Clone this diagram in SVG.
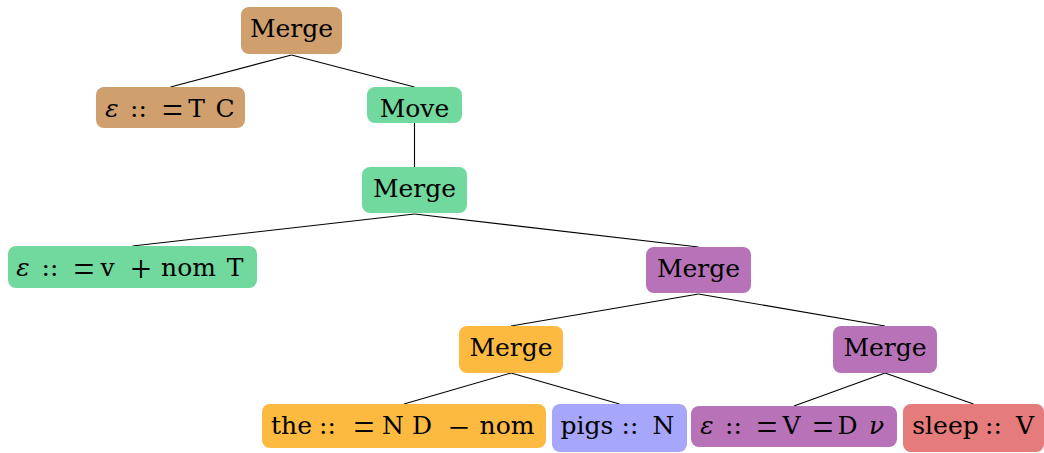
<svg xmlns="http://www.w3.org/2000/svg" width="1044" height="453" viewBox="0 0 1044 453">
<style>
.t{font-family:"DejaVu Serif","Liberation Serif",serif;font-size:25px;fill:#000;text-anchor:middle}
.op{font-family:"Liberation Serif","DejaVu Serif",serif;font-size:37px}
.i{font-style:italic}
.brown{fill:#D09F6E}
.green{fill:#72D99E}
.purple{fill:#B873B8}
.orange{fill:#FDBA40}
.blue{fill:#A6A6FA}
.red{fill:#E57B7B}
.e{stroke:#000;stroke-width:1.1;fill:none}
</style>
<rect width="1044" height="453" fill="#fff"/>
<g id="edges">
<line class="e" x1="291.5" y1="55" x2="170.5" y2="87"/>
<line class="e" x1="291.5" y1="55" x2="414.5" y2="87"/>
<line class="e" x1="414.5" y1="123" x2="414.5" y2="167"/>
<line class="e" x1="414.5" y1="214" x2="132.5" y2="246"/>
<line class="e" x1="414.5" y1="214" x2="698.5" y2="247"/>
<line class="e" x1="698.5" y1="294" x2="511" y2="326"/>
<line class="e" x1="698.5" y1="294" x2="885" y2="326"/>
<line class="e" x1="511" y1="373" x2="404" y2="404"/>
<line class="e" x1="511" y1="373" x2="619.5" y2="404"/>
<line class="e" x1="885" y1="373" x2="794" y2="406"/>
<line class="e" x1="885" y1="373" x2="973.5" y2="404"/>
</g>
<g id="n1"><rect class="brown" x="241" y="7" width="101" height="47" rx="8"/><text class="t" x="291.5" y="37">Merge</text></g>
<g id="n2"><rect class="brown" x="96" y="87" width="149" height="41" rx="8"/><text class="t" y="117"><tspan class="i" x="112">ε</tspan><tspan x="138.5">::</tspan><tspan x="196.5">T</tspan><tspan x="225">C</tspan></text><text class="t op" x="172.5" y="123">=</text></g>
<g id="n3"><rect class="green" x="367" y="87" width="95" height="36" rx="8"/><text class="t" x="414.5" y="117">Move</text></g>
<g id="n4"><rect class="green" x="362" y="167" width="105" height="46" rx="8"/><text class="t" x="414.5" y="197">Merge</text></g>
<g id="n5"><rect class="green" x="8" y="246" width="249" height="42" rx="8"/><text class="t" y="276"><tspan class="i" x="23">ε</tspan><tspan x="50">::</tspan><tspan x="107.5">v</tspan><tspan x="188.5">nom</tspan><tspan x="235">T</tspan></text><text class="t op" y="282"><tspan x="84">=</tspan><tspan x="141">+</tspan></text></g>
<g id="n6"><rect class="purple" x="646" y="247" width="105" height="46" rx="8"/><text class="t" x="698.5" y="277">Merge</text></g>
<g id="n7"><rect class="orange" x="459" y="326" width="104" height="47" rx="8"/><text class="t" x="511" y="356">Merge</text></g>
<g id="n8"><rect class="purple" x="833" y="326" width="104" height="47" rx="8"/><text class="t" x="885" y="356">Merge</text></g>
<g id="n9"><rect class="orange" x="262" y="404" width="284" height="44" rx="8"/><text class="t" y="434"><tspan x="291.5">the</tspan><tspan x="327.5">::</tspan><tspan x="393">N</tspan><tspan x="422">D</tspan><tspan x="507">nom</tspan></text><text class="t op" y="440"><tspan x="364">=</tspan><tspan x="459">−</tspan></text></g>
<g id="n10"><rect class="blue" x="552" y="404" width="135" height="48" rx="8"/><text class="t" y="434"><tspan x="587">pigs</tspan><tspan x="630">::</tspan><tspan x="663.5">N</tspan></text></g>
<g id="n11"><rect class="purple" x="691" y="406" width="206" height="41" rx="8"/><text class="t" y="434"><tspan class="i" x="707">ε</tspan><tspan x="733.5">::</tspan><tspan x="791.5">V</tspan><tspan x="847.5">D</tspan><tspan class="i" x="876.5">ν</tspan></text><text class="t op" y="440"><tspan x="767">=</tspan><tspan x="823">=</tspan></text></g>
<g id="n12"><rect class="red" x="903" y="404" width="141" height="48" rx="8"/><text class="t" y="434"><tspan x="945.5">sleep</tspan><tspan x="993.5">::</tspan><tspan x="1025">V</tspan></text></g>
</svg>
